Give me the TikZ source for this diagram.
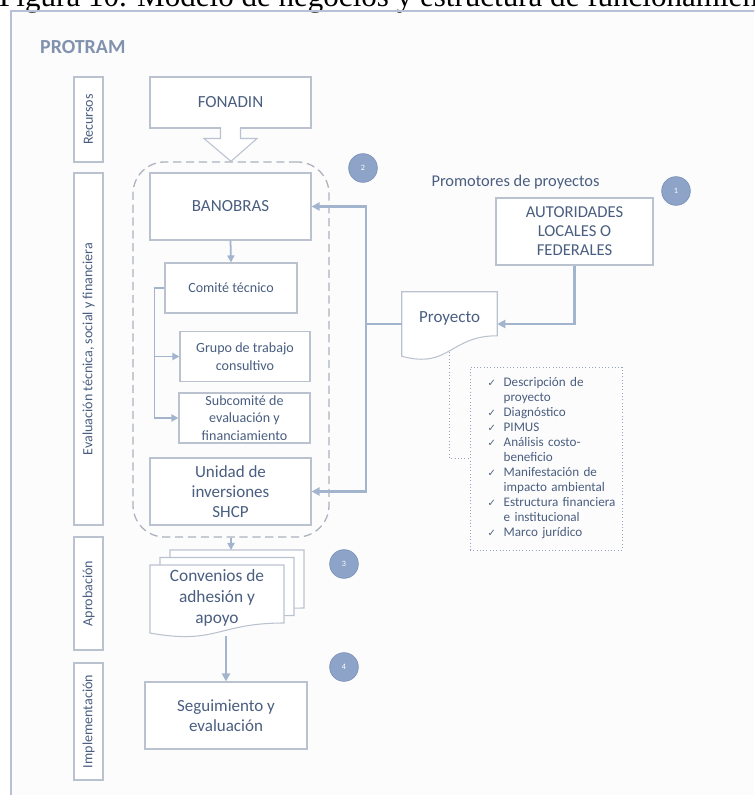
\documentclass[tikz,border=0pt]{standalone}
\usepackage{fontspec}
\setmainfont{Carlito}
\newfontfamily\capfont{Liberation Serif}
\newfontfamily\symfont{DejaVu Sans}
\usetikzlibrary{arrows.meta}
\definecolor{txtblue}{RGB}{74,94,128}
\definecolor{ttlblue}{RGB}{128,146,173}
\definecolor{boxgray}{RGB}{186,194,208}
\definecolor{lineblue}{RGB}{163,180,207}
\definecolor{dotblue}{RGB}{150,162,188}
\definecolor{zonegray}{RGB}{172,178,190}
\definecolor{stepfill}{RGB}{141,163,199}
\definecolor{stepdraw}{RGB}{125,148,186}
\definecolor{framecol}{RGB}{182,192,214}
\newcommand{\chk}[1]{\hspace*{0.5cm}\makebox[0.48cm][l]{\symfont\fontsize{8.5}{9}\selectfont ✓}\mbox{#1}}
\newcommand{\cnt}[1]{\hspace*{0.98cm}\mbox{#1}}

\begin{document}
\begin{tikzpicture}[x=0.03cm,y=-0.03cm,
	box/.style={draw=boxgray,line width=0.9pt,fill=white,text=txtblue,align=center,inner sep=0pt},
	bigbox/.style={box,minimum width=4.83cm,minimum height=2.01cm,font=\fontsize{14.5}{17}\selectfont},
	subbox/.style={box,minimum height=1.52cm,font=\fontsize{12}{15}\selectfont},
	sidebox/.style={box,rotate=90,minimum height=0.87cm,font=\fontsize{12}{14}\selectfont},
	zone/.style={draw=zonegray,line width=1.1pt,dash pattern=on 7pt off 4pt,rounded corners=0.95cm},
	docshape/.style={draw=boxgray,line width=0.9pt,fill=white},
	blockarrow/.style={draw=boxgray,line width=0.9pt,fill=white},
	conn/.style={draw=lineblue,line width=2.2pt,-{Triangle[length=7pt,width=7pt]}},
	thinconn/.style={draw=lineblue,line width=1.5pt,-{Triangle[length=6pt,width=6pt]}},
	dotconn/.style={draw=dotblue,line width=0.8pt,dotted},
	stepnum/.style={circle,fill=stepfill,draw=stepdraw,line width=0.6pt,minimum size=0.86cm,inner sep=0pt,text=white,font=\fontsize{7}{8}\selectfont}]
		\useasboundingbox (0,0) rectangle (754,795);
		\clip (0,0) rectangle (754,795);
		\fill[white] (0,0) rectangle (754,795);
		\fill[black!1] (11,11) rectangle (760,800);
		\node[anchor=base west,inner sep=0pt,font=\capfont\fontsize{26.5}{30}\selectfont] (caption) at (-1,6.5) {Figura 10. Modelo de negocios y estructura de funcionamiento};
		\draw[framecol,line width=2.2pt] (11,800) -- (11,11) -- (760,11);
		\node[anchor=west,inner sep=0pt,text=ttlblue,font=\bfseries\fontsize{17}{20}\selectfont] (protram) at (40,47) {PROTRAM};
		\foreach \n/\y/\l/\t in {recursos/119.5/2.55/Recursos, evaluacion/349/10.56/{Evaluación técnica, social y financiera}, aprobacion/593.5/3.39/Aprobación, implementacion/721.5/3.51/Implementación}
			\node[sidebox,minimum width=\l cm] (\n) at (88.5,\y) {\t};
		\node[zone,minimum width=5.88cm,minimum height=11.25cm] (zone) at (231,349.5) {};
		\node[bigbox,minimum height=1.53cm] (fonadin) at (230.5,102.5) {FONADIN};
		\filldraw[blockarrow] ([shift={(-10,-1.5)}]fonadin.south) -- ++(0,11.5) -- ++(-16.5,0) -- (zone.north) -- ([shift={(26.5,10)}]fonadin.south) -- ++(-16.5,0) -- ++(0,-11.5);
		\node[bigbox] (banobras) at (230.5,206.5) {BANOBRAS};
		\node[subbox,minimum width=3.96cm,minimum height=1.5cm] (comite) at (231,288) {Comité técnico};
		\node[subbox,minimum width=3.9cm] (grupo) at (245,356.5) {Grupo de trabajo\\consultivo};
		\node[subbox,minimum width=3.93cm,minimum height=1.5cm] (subcomite) at (244.5,418) {Subcomité de\\evaluación y\\financiamiento};
		\node[bigbox] (unidad) at (230.5,491.5) {Unidad de\\inversiones\\SHCP};
		\node[text=txtblue,font=\fontsize{14}{17}\selectfont] (promotores) at (515.5,182) {Promotores de proyectos};
		\node[bigbox,minimum width=4.71cm,font=\fontsize{14.2}{16.2}\selectfont] (autoridades) at (574.5,231.5) {AUTORIDADES\\LOCALES O\\FEDERALES};
		\node[minimum width=2.85cm,minimum height=1.92cm,inner sep=0pt] (proyecto) at (449.5,324) {};
		\filldraw[docshape] (proyecto.north west) -- (proyecto.north east) -- ++(0,44) .. controls +(-47.5,0) and +(47.5,13) .. (proyecto.south west) -- cycle;
		\node[text=txtblue,font=\fontsize{14.5}{17}\selectfont] (proytxt) at ([yshift=0.18cm]proyecto.center) {Proyecto};
		\coordinate (proywave) at (449.5,352);
		\node[draw=dotblue,line width=0.8pt,dotted,text=txtblue,align=left,text width=4.5cm,inner xsep=0.03cm,minimum height=5.49cm,font=\fontsize{11.2}{12.8}\selectfont] (checklist) at (546,458.5) {\chk{Descripción de}\\ \cnt{proyecto}\\ \chk{Diagnóstico}\\ \chk{PIMUS}\\ \chk{Análisis costo-}\\ \cnt{beneficio}\\ \chk{Manifestación de}\\ \cnt{impacto ambiental}\\ \chk{Estructura financiera}\\ \cnt{e institucional}\\ \chk{Marco jurídico}};
		\draw[dotconn] (proywave) |- (checklist.west);
		\foreach \s in {2,1,0}
			\filldraw[docshape,shift={(10*\s,-7.5*\s)}] (150,565) -- (284,565) -- (284,623) .. controls (217,623) and (217,645) .. (150,633) -- cycle;
		\coordinate (convstack) at (237,550);
		\node[text=txtblue,align=center,font=\fontsize{14.8}{18}\selectfont,minimum width=4.02cm,minimum height=2.04cm] (convenios) at (217,598) {Convenios de\\adhesión y\\apoyo};
		\node[bigbox,minimum width=4.86cm] (seguimiento) at (226,715.5) {Seguimiento y\\evaluación};
		\draw[thinconn] (banobras.south) -- (comite.north);
		\draw[thinconn] (comite.west) -- ++(-10,0) |- (grupo.west);
		\draw[thinconn] (comite.west) -- ++(-10,0) |- (subcomite.west);
		\coordinate (bus) at (366,324);
		\draw[conn] (proyecto.west) -- (bus) |- (banobras.east);
		\draw[conn] (bus) |- (unidad.east);
		\draw[conn] (autoridades.south) |- (proyecto.east);
		\draw[thinconn] (zone.south) -- (zone.south |- convstack);
		\draw[conn,shorten <=0.12cm] (seguimiento.north |- convenios.south) -- (seguimiento.north);
		\foreach \n/\x/\y in {1/676/191, 2/363/168, 3/344/564, 4/344/667}
			\node[stepnum] (paso\n) at (\x,\y) {\n};
	\end{tikzpicture}
\end{document}
